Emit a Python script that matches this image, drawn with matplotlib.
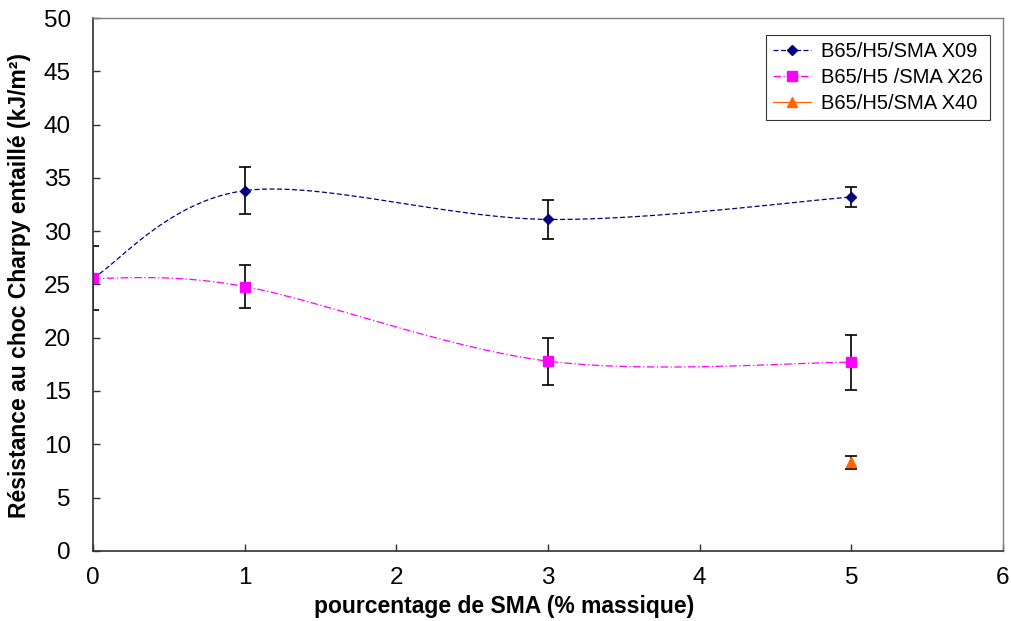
import numpy as np
import matplotlib.pyplot as plt

plt.rcParams['font.family'] = ['Liberation Sans', 'DejaVu Sans']

x_pts = [0, 1, 3, 5]
x09 = [25.6, 33.8, 31.1, 33.2]
x09_err = [0.0, 2.2, 1.8, 0.9]
x26 = [25.6, 24.8, 17.8, 17.7]
x26_err = [3.0, 2.0, 2.2, 2.6]
x40_x = [5]
x40 = [8.3]
x40_err = [0.6]

labels = ['B65/H5/SMA X09', 'B65/H5 /SMA X26', 'B65/H5/SMA X40']


def excel_smooth(xs, ys, n=40):
    # courbe lissée façon Excel (Bézier, tension 1/6)
    p = np.column_stack([xs, ys]).astype(float)
    out = []
    for i in range(len(p) - 1):
        p0 = p[i - 1] if i > 0 else p[i]
        p3 = p[i + 2] if i + 2 < len(p) else p[i + 1]
        c1 = p[i] + (p[i + 1] - p0) / 6.0
        c2 = p[i + 1] - (p3 - p[i]) / 6.0
        t = np.linspace(0, 1, n)[:, None]
        seg = ((1 - t) ** 3) * p[i] + 3 * ((1 - t) ** 2) * t * c1 + 3 * (1 - t) * t ** 2 * c2 + t ** 3 * p[i + 1]
        out.append(seg if i == 0 else seg[1:])
    s = np.vstack(out)
    return s[:, 0], s[:, 1]


fig = plt.figure(figsize=(10.12, 6.21), dpi=100)
ax = fig.add_axes([0.092, 0.113, 0.899, 0.858])

sx, sy = excel_smooth(x_pts, x09)
ax.plot(sx, sy, color='#000080', linestyle=(0, (4, 2)), linewidth=0.9)
sx, sy = excel_smooth(x_pts, x26)
ax.plot(sx, sy, color='#ff00ff', linestyle=(0, (6, 2, 1, 2)), linewidth=0.9)

ax.errorbar(x_pts, x26, yerr=x26_err, fmt='none', ecolor='black', elinewidth=1.2, capsize=4, capthick=1.2)
ax.errorbar(x_pts, x09, yerr=x09_err, fmt='none', ecolor='black', elinewidth=1.2, capsize=4, capthick=1.2)
ax.errorbar(x40_x, x40, yerr=x40_err, fmt='none', ecolor='black', elinewidth=1.2, capsize=4, capthick=1.2)

ax.plot(x_pts, x09, linestyle='none', marker='D', markersize=5, color='#000080')
ax.plot(x_pts, x26, linestyle='none', marker='s', markersize=6.5, color='#ff00ff')
ax.plot(x40_x, x40, linestyle='none', marker='^', markersize=6.5, color='#ff6600')

# entrées de légende
h1, = ax.plot([], [], color='#000080', linestyle=(0, (4, 2)), marker='D', markersize=5, linewidth=0.9)
h2, = ax.plot([], [], color='#ff00ff', linestyle=(0, (6, 2, 1, 2)), marker='s', markersize=6.5, linewidth=0.9)
h3, = ax.plot([], [], color='#ff6600', linestyle='-', marker='^', markersize=6.5, linewidth=0.9)
leg = ax.legend([h1, h2, h3], labels, loc='upper right', bbox_to_anchor=(0.986, 0.968),
                fontsize=14.5, frameon=True, fancybox=False, edgecolor='black',
                handlelength=1.9, handletextpad=0.5, borderpad=0.35, labelspacing=0.35,
                borderaxespad=0)
leg.get_frame().set_linewidth(0.8)

ax.set_xlim(0, 6)
ax.set_ylim(0, 50)
ax.set_xticks(range(0, 7))
ax.set_yticks(range(0, 51, 5))
ax.tick_params(direction='in', length=5, width=1, labelsize=17.5, color='#303030')
ax.tick_params(axis='x', pad=12)
ax.tick_params(axis='y', pad=16)
for side in ['left', 'bottom']:
    ax.spines[side].set_color('#303030')
    ax.spines[side].set_linewidth(1.2)
for side in ['top', 'right']:
    ax.spines[side].set_color('#808080')
    ax.spines[side].set_linewidth(1)

fig.text(504 / 1012, 1 - 607 / 621, 'pourcentage de SMA (% massique)', fontsize=16.5,
         fontweight='bold', ha='center', va='center')
fig.text(20 / 1012, 1 - 285 / 621, 'Résistance au choc Charpy entaillé (kJ/m²)', fontsize=16.5,
         fontweight='bold', ha='center', va='center', rotation=90)

fig.savefig('out.png', dpi=100)
